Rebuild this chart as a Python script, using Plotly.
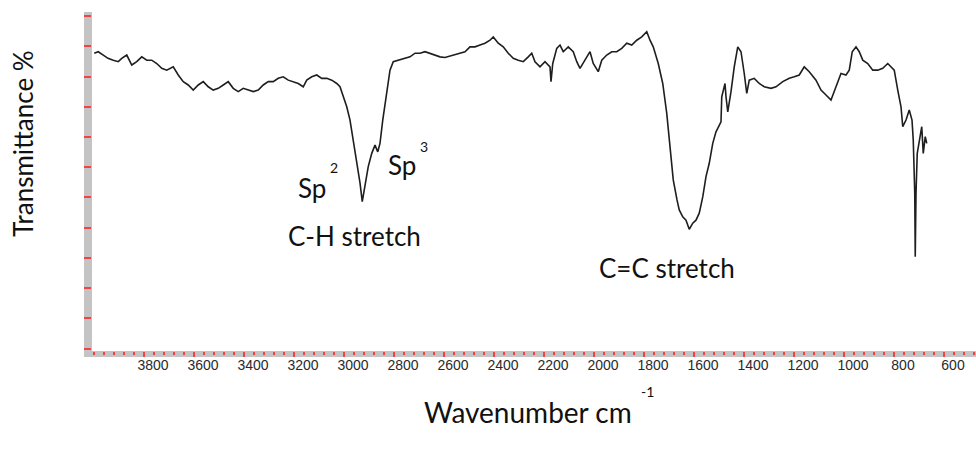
import plotly.graph_objects as go

# IR spectrum: wavenumber (cm-1) and transmittance (%)
wavenumber = [3999, 3983, 3963, 3944, 3923, 3903, 3889, 3869, 3849, 3829, 3809, 3789, 3769, 3749, 3729, 3709,
              3683, 3663, 3643, 3623, 3603, 3583, 3563, 3543, 3523, 3503, 3483, 3463, 3443, 3423, 3403, 3383,
              3363, 3343, 3323, 3303, 3283, 3263, 3243, 3223, 3203, 3183, 3163, 3149, 3129, 3109, 3089, 3069,
              3049, 3029, 3016, 3003, 2989, 2976, 2963, 2949, 2936, 2927, 2916, 2903, 2889, 2876, 2865, 2856,
              2845, 2836, 2816, 2803, 2783, 2763, 2736, 2716, 2696, 2676, 2656, 2636, 2616, 2596, 2576, 2556,
              2536, 2516, 2496, 2476, 2456, 2436, 2416, 2403, 2383, 2363, 2343, 2323, 2303, 2283, 2263, 2249,
              2236, 2216, 2196, 2176, 2172, 2165, 2149, 2136, 2123, 2103, 2083, 2069, 2056, 2036, 2016, 2003,
              1983, 1969, 1949, 1929, 1909, 1889, 1869, 1849, 1829, 1809, 1789, 1776, 1763, 1743, 1725, 1709,
              1696, 1683, 1668, 1659, 1645, 1632, 1619, 1605, 1592, 1579, 1565, 1552, 1539, 1525, 1512, 1499,
              1492, 1489, 1483, 1476, 1472, 1465, 1452, 1439, 1425, 1412, 1399, 1389, 1379, 1359, 1339, 1319,
              1292, 1272, 1245, 1219, 1199, 1179, 1159, 1139, 1112, 1092, 1072, 1052, 1032, 1012, 992, 979,
              967, 952, 939, 925, 905, 885, 865, 845, 825, 812, 799, 785, 772, 765, 752, 739,
              728, 723, 717, 715, 712, 707, 699, 689, 683, 675, 669]
transmittance = [97.7, 98.2, 97.1, 96.0, 95.4, 94.9, 96.0, 97.1, 93.8, 94.9, 96.5, 95.4, 95.4, 94.3, 92.7, 92.1,
                 93.2, 90.5, 88.3, 87.2, 85.5, 87.2, 88.3, 86.6, 85.5, 86.1, 87.2, 88.3, 86.1, 85.0, 86.1, 85.5,
                 85.0, 85.5, 87.2, 88.3, 88.3, 89.4, 89.9, 88.8, 88.3, 87.7, 86.6, 88.8, 89.9, 90.5, 89.4, 89.4,
                 88.8, 87.7, 86.6, 83.3, 80.0, 75.6, 69.0, 62.4, 54.8, 48.6, 53.6, 60.2, 64.6, 67.3, 65.1, 67.9,
                 75.6, 81.2, 92.1, 94.9, 95.4, 95.7, 96.5, 97.7, 97.7, 98.2, 97.7, 97.1, 96.5, 96.3, 96.8, 97.1,
                 97.7, 98.2, 99.8, 99.8, 100.4, 101.0, 102.0, 103.1, 101.0, 99.8, 97.7, 96.0, 95.4, 94.9, 96.5, 97.7,
                 94.9, 93.2, 94.9, 93.2, 88.3, 94.3, 99.3, 100.4, 98.2, 99.8, 98.2, 94.9, 92.7, 95.4, 98.2, 94.3,
                 91.6, 95.4, 97.1, 98.2, 98.2, 99.3, 101.0, 100.4, 102.0, 103.1, 104.8, 102.0, 99.8, 94.3, 87.7, 77.8,
                 66.8, 55.8, 49.2, 45.9, 43.6, 42.5, 39.5, 41.5, 42.5, 44.8, 50.2, 56.9, 61.3, 67.9, 71.7, 74.0,
                 75.0, 83.3, 85.5, 87.7, 83.3, 78.3, 85.0, 93.2, 99.8, 98.2, 91.0, 84.4, 88.8, 89.4, 87.7, 86.6,
                 86.1, 86.6, 88.3, 89.4, 89.9, 90.5, 93.2, 91.6, 88.8, 85.5, 83.9, 82.2, 86.6, 91.0, 90.5, 92.1,
                 98.2, 99.8, 98.2, 95.4, 94.3, 92.1, 92.1, 92.7, 94.3, 93.2, 92.1, 85.5, 80.0, 73.4, 75.6, 78.9,
                 75.6, 69.0, 51.4, 30.4, 51.4, 64.6, 69.0, 73.4, 64.6, 70.1, 67.9]

x_tick_values = [3800, 3600, 3400, 3200, 3000, 2800, 2600, 2400, 2200, 2000, 1800, 1600, 1400, 1200, 1000, 800, 600]
x_tick_labels = ["3800", "3600", "3400", "3200", "3000", "2800", "2600", "2400", "2200", "2000",
                 "1800", "1600", "1400", "1200", "1000", "800", "600"]
y_tick_values = [0, 10, 20, 30, 40, 50, 60, 70, 80, 90, 100, 110]

W, H = 976, 457
ML, MT, MB = 92, 13, 106
PW, PH = W - ML, H - MT - MB


def px(x):
    return (x - ML) / PW


def py(y):
    return (H - MB - y) / PH


FONT = "Lato"
fig = go.Figure()
fig.add_trace(go.Scatter(x=wavenumber, y=transmittance, mode="lines",
                         line=dict(color="#1e1e1e", width=1.6), hoverinfo="skip", showlegend=False))

fig.update_layout(
    template="none",
    width=W, height=H,
    margin=dict(l=ML, r=0, t=MT, b=MB, autoexpand=False),
    paper_bgcolor="white", plot_bgcolor="white",
    xaxis=dict(range=[4008, 472], automargin=False, showgrid=False, zeroline=False, showline=False,
               tickvals=x_tick_values, ticktext=x_tick_labels,
               ticks="outside", ticklen=5, tickwidth=2, tickcolor="#ee4444",
               ticklabelshift=-9, ticklabelstandoff=-4,
               tickfont=dict(family="Liberation Sans", size=14, color="#2a2a2a"),
               minor=dict(tick0=3800, dtick=40, ticks="outside", ticklen=3, tickwidth=2,
                          tickcolor="#ee4444", showgrid=False)),
    yaxis=dict(range=[-0.76, 111.0], automargin=False, showgrid=False, zeroline=False, showline=False,
               tickvals=y_tick_values, showticklabels=False,
               ticks="outside", ticklen=7, tickwidth=2, tickcolor="#ee4444"),
    shapes=[
        dict(type="rect", xref="paper", yref="paper", x0=px(84), x1=0, y0=py(357), y1=py(12),
             fillcolor="#c4c4c4", line=dict(width=0), layer="below"),
        dict(type="rect", xref="paper", yref="paper", x0=px(84), x1=1, y0=py(357), y1=0,
             fillcolor="#c4c4c4", line=dict(width=0), layer="below"),
    ],
)

annos = [
    ("Transmittance %", 23, 144, 26, -90),
    ("Wavenumber cm", 528, 412, 28, 0),
    ("-1", 647, 391, 14, 0),
    ("Sp", 312, 188, 26, 0),
    ("2", 334, 167, 14, 0),
    ("Sp", 402, 165, 26, 0),
    ("3", 424, 146, 14, 0),
    ("C-H stretch", 354, 236, 26, 0),
    ("C=C stretch", 667, 268, 26, 0),
]
for text, x, y, size, ang in annos:
    fig.add_annotation(text=text, x=px(x), y=py(y), xref="paper", yref="paper",
                       xanchor="center", yanchor="middle", showarrow=False, textangle=ang,
                       font=dict(family=FONT, size=size, color="#111111"))

fig.write_html("out.html", config={"displayModeBar": False},
               post_script="document.body.style.margin='0';document.body.style.overflow='hidden';")
